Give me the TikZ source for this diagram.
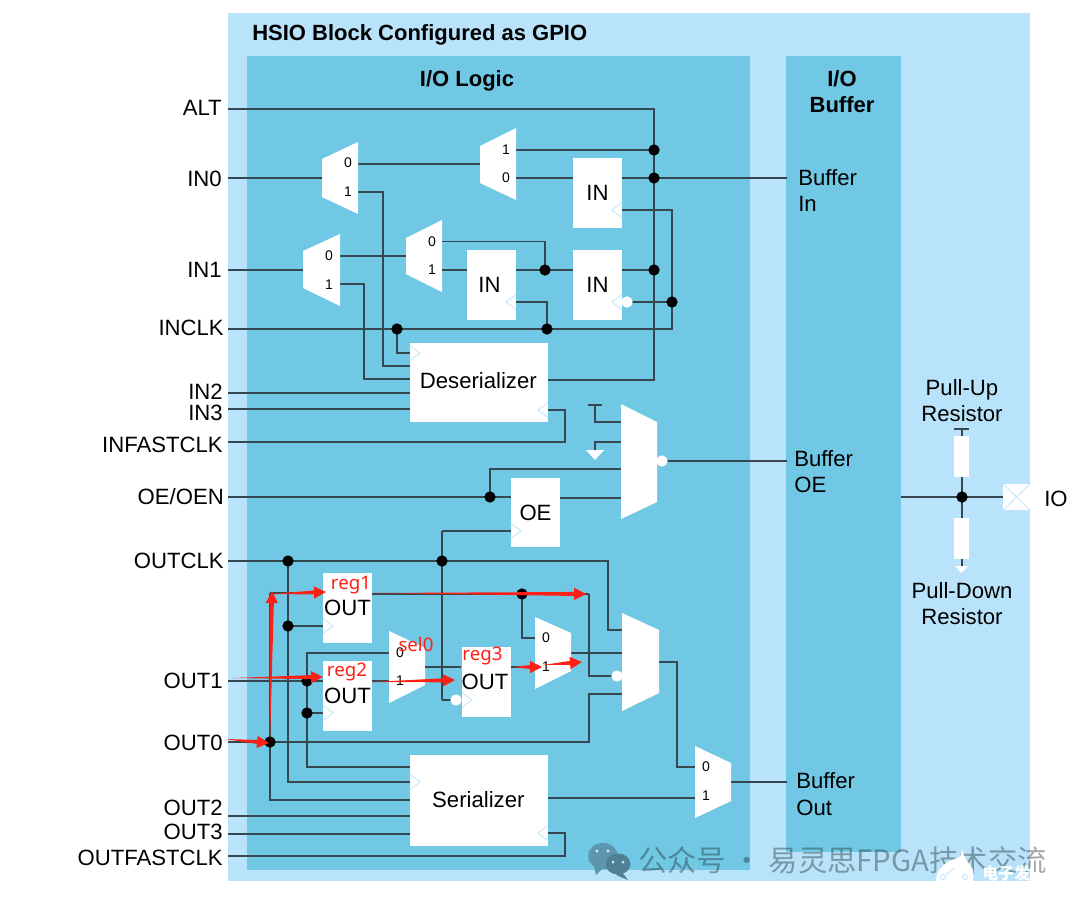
\documentclass[tikz,border=0pt]{standalone}
\usepackage{fontspec}
\setmainfont{Liberation Sans}
\newfontfamily\noto{Noto Sans}
\newfontfamily\cjk{Noto Sans CJK SC}
\usetikzlibrary{calc}
\definecolor{outerblue}{HTML}{B9E3FA}
\definecolor{innerblue}{HTML}{71C8E5}
\definecolor{wirec}{HTML}{37474F}
\definecolor{chev}{HTML}{C4E8FB}
\definecolor{redmark}{HTML}{FF2015}
\definecolor{wmark}{HTML}{5E97AD}
\tikzset{
  wire/.style={draw=wirec,line width=0.8pt},
  fbox/.style={fill=white,inner sep=0pt,font=\fontsize{16.6}{18}\selectfont},
  reg/.style={fbox,minimum width=36.75pt,minimum height=52.5pt},
  wide/.style={fbox,minimum width=103.5pt},
  sdot/.style={circle,fill=black,inner sep=0pt,minimum size=8.5pt},
  bub/.style={circle,fill=white,inner sep=0pt,minimum size=8.5pt},
  sig/.style={anchor=east,inner sep=0pt,font=\fontsize{16.6}{18}\selectfont},
  lab/.style={inner sep=0pt,font=\fontsize{16.6}{18}\selectfont},
  lft/.style={lab,anchor=west},
  head/.style={inner sep=0pt,font=\fontsize{16.5}{18}\selectfont\bfseries},
  pin/.style={inner sep=0pt,font=\fontsize{10.5}{12}\selectfont},
  redl/.style={inner sep=0pt,text=redmark,font=\noto\fontsize{14}{15}\selectfont},
  chv/.style={draw=chev,line width=0.7pt},
  muxf/.style={fill=white},
}
\newcommand{\muxshape}[6]{\path[muxf] (#1,#3) -- (#2,#5) -- (#2,#6) -- (#1,#4) -- cycle;}
\newcommand{\chevr}[2]{\draw[chv] (#1,#2-7.5) -- (#1+10,#2) -- (#1,#2+7.5);}
\newcommand{\chevl}[2]{\draw[chv] (#1,#2-7.5) -- (#1-10,#2) -- (#1,#2+7.5);}
\newcommand{\redarr}[2]{%
  \coordinate (ah) at ($(#2)!9pt!(#1)$);
  \fill[redmark] (#1) -- ($(ah)!1.5pt!90:(#2)$) -- ($(ah)!4.6pt!90:(#2)$) -- (#2)
     -- ($(ah)!4.6pt!-90:(#2)$) -- ($(ah)!1.5pt!-90:(#2)$) -- cycle;}
\begin{document}
\begin{tikzpicture}[x=0.75pt,y=-0.75pt]
\useasboundingbox (0,0) rectangle (1080,903);
\fill[white] (0,0) rectangle (1080,903);
% panels
\fill[outerblue] (228,13) rectangle (1030,881);
\fill[innerblue] (247,56) rectangle (750,870);
\fill[innerblue] (786,56) rectangle (901,852);

% terminals
\foreach \n/\y in {tALT/109,tINO/178,tINA/270,tINCLK/329,tINB/393,tINC/409,tINF/442,tOE/497,tOCLK/561,tOA/681,tOO/742,tOB/816,tOC/834,tOF/856}
  \coordinate (\n) at (228,\y);
\coordinate (bIn) at (787,178);
\coordinate (bOE) at (787,461);
\coordinate (bOut) at (787,782);

% junctions
\coordinate (jA) at (654,150);
\coordinate (jB) at (654,178);
\coordinate (jC) at (654,270);
\coordinate (jD) at (545,270);
\coordinate (jE) at (672,302);
\coordinate (jF) at (547,329);
\coordinate (jG) at (397,329);
\coordinate (jH) at (490,497);
\coordinate (jI) at (288,561);
\coordinate (jJ) at (442,561);
\coordinate (jK) at (288,626);
\coordinate (jL) at (307,681);
\coordinate (jM) at (307,713);
\coordinate (jN) at (270,742);
\coordinate (jO) at (522,594);
\coordinate (jR) at (962,497);

% bends
\coordinate (cALT) at (654,109);
\coordinate (cDes) at (654,380);
\coordinate (desQ) at (548,380);
\coordinate (cA) at (383,366);
\coordinate (desA) at (410,366);
\coordinate (cB) at (364,379);
\coordinate (desB) at (410,379);
\coordinate (desC) at (410,353);
\coordinate (cClk) at (672,329);
\coordinate (desF) at (548,410);
\coordinate (cF) at (565,442);
\coordinate (serF) at (548,833);
\coordinate (cS) at (565,856);
\coordinate (cJ) at (442,700);
\coordinate (bubC) at (456,700);
\coordinate (cOC) at (608,561);
\coordinate (cLa) at (288,782);
\coordinate (serC) at (410,782);
\coordinate (cSa) at (307,653);
\coordinate (cSb) at (307,767);
\coordinate (serA) at (410,767);
\coordinate (cUp) at (270,593);
\coordinate (cDn) at (270,800);
\coordinate (serB) at (410,800);
\coordinate (cQ1) at (589,594);
\coordinate (cQ2) at (589,676);
\coordinate (cO) at (589,742);
\coordinate (cMo) at (677,767);

% mux pins
\coordinate (maI) at (322,178);
\coordinate (maA) at (358,164);
\coordinate (maB) at (358,192);
\coordinate (mbA) at (480,164);
\coordinate (mbP) at (516,150);
\coordinate (mbQ) at (516,178);
\coordinate (mcI) at (303,270);
\coordinate (mcA) at (340,256);
\coordinate (mcB) at (340,284);
\coordinate (mdA) at (406,256);
\coordinate (mdP) at (442,241.5);
\coordinate (mdQ) at (442,270);
\coordinate (oeT) at (621,422);
\coordinate (oeG) at (621,442);
\coordinate (oeH) at (621,469);
\coordinate (oeJ) at (621,498);
\coordinate (oeO) at (662,461);
\coordinate (tieL) at (588,405);
\coordinate (tieR) at (602,405);
\coordinate (tieC) at (595,405);
\coordinate (gndC) at (595,450);
\coordinate (meA) at (389,653);
\coordinate (meB) at (389,681);
\coordinate (meO) at (425,667);
\coordinate (mfA) at (535,638);
\coordinate (mfB) at (535,667);
\coordinate (mfO) at (571,653);
\coordinate (mgA) at (622,630);
\coordinate (mgB) at (622,653);
\coordinate (mgD) at (622,694);
\coordinate (mgO) at (659,662);
\coordinate (mgBub) at (617,676);
\coordinate (mhA) at (695,767);
\coordinate (mhB) at (695,798);
\coordinate (mhO) at (731,782);
\coordinate (serQ) at (548,798);

% connectors
\draw[wire] (tALT) -- (cALT) -- (jA) -- (jB) -- (jC) -- (cDes) -- (desQ);
\draw[wire] (tINO) -- (maI);
\draw[wire] (maA) -- (mbA);
\draw[wire] (maB) -| (cA) -- (desA);
\draw[wire] (mbP) -- (jA);
\draw[wire] (tINA) -- (mcI);
\draw[wire] (mcA) -- (mdA);
\draw[wire] (mcB) -| (cB) -- (desB);
\draw[wire] (mdP) -| (jD);
\draw[wire] (tINCLK) -- (jG) -- (jF) -- (cClk) -- (jE);
\draw[wire] (jG) |- (desC);
\draw[wire] (tINB) -- (tINB -| desA);
\draw[wire] (tINC) -- (tINC -| desA);
\draw[wire] (desF) -| (cF) -- (tINF);
\draw[wire] (tieL) -- (tieR);
\draw[wire] (tieC) |- (oeT);
\draw[wire] (oeG) -| (gndC);
\draw[wire] (tOE) -- (jH);
\draw[wire] (jH) |- (oeH);
\draw[wire] (oeO) -- (bOE);
\draw[wire] (tOCLK) -- (jI) -- (jJ) -- (cOC) |- (mgA);
\draw[wire] (jI) -- (jK) -- (cLa) -- (serC);
\draw[wire] (meA) -- (cSa) -- (jL) -- (jM) -- (cSb) -- (serA);
\draw[wire] (tOA) -- (jL);
\draw[wire] (jN) -- (cUp);
\draw[wire] (jN) -- (cDn) -- (serB);
\draw[wire] (tOO) -- (jN) -- (cO) |- (mgD);
\draw[wire] (jO) |- (mfA);
\draw[wire] (cQ1) -- (cQ2) -- (mgBub);
\draw[wire] (mfO) -- (mgB);
\draw[wire] (mgO) -| (cMo) -- (mhA);
\draw[wire] (serQ) -- (mhB);
\draw[wire] (mhO) -- (bOut);
\draw[wire] (tOB) -- (tOB -| serA);
\draw[wire] (tOC) -- (tOC -| serA);
\draw[wire] (serF) -| (cS) -- (tOF);
\draw[wire] (cJ) -- (jJ);
\draw[wire] (jJ) -- ++(0,-30) coordinate (oeCk);
\draw[wire] (cJ) -- (bubC);

% muxes
\muxshape{322}{358}{159}{197}{142}{214}
\muxshape{480}{516}{146}{183}{128}{200}
\muxshape{303}{340}{251}{288}{234}{306}
\muxshape{406}{442}{238}{274}{220}{292}
\muxshape{621}{657}{404}{519}{422}{502}
\muxshape{389}{425}{631}{703}{648}{685}
\muxshape{535}{571}{617}{689}{633}{671}
\muxshape{622}{659}{613}{711}{630}{693}
\muxshape{695}{731}{746}{818}{763}{801}
\fill[white] (586,450) -- (604,450) -- (595,460) -- cycle;

% mux pin labels
\foreach \n/\x/\y/\t in {pa/348/163/0,pb/348/192/1,pc/506/150/1,pd/506/178/0,pe/329/256/0,pf/329/285/1,pg/432/242/0,ph/432/270/1,pi/400/653/0,pj/400/681/1,pk/546/638/0,pl/546/667/1,pm/706/767/0,pn/706/796/1}
  \node[pin] (\n) at (\x,\y) {\t};

% register blocks
\node[reg] (inA) at (597.5,193) {IN};
\node[reg] (inB) at (491.5,285) {IN\kern3pt};
\node[reg] (inC) at (597.5,285) {IN};
\node[reg,minimum height=51.75pt] (oeR) at (535.5,512.5) {OE};
\node[reg] (rA) at (347.5,608) {OUT};
\node[reg] (rB) at (347.5,696) {OUT};
\node[reg] (rC) at (486,682) {OUT\kern1.5pt};
\node[wide,minimum height=59.25pt] (des) at (479,382.5) {\raisebox{3pt}{Deserializer\kern1pt}};
\node[wide,minimum height=68.25pt] (ser) at (479,800.5) {\raisebox{1pt}{Serializer\kern1pt}};

% wires that end on the blocks
\draw[wire] (mbQ) -- (mbQ -| inA.west);
\draw[wire] (bIn) -- (jB) -- (bIn -| inA.east);
\draw[wire] (inA.east |- 0,210) -| (jE);
\draw[wire] (mdQ) -- (mdQ -| inB.west);
\draw[wire] (jD -| inB.east) -- (jD) -- (jD -| inC.west);
\draw[wire] (jC) -- (jC -| inC.east);
\draw[wire] (inB.east |- jE) -| (jF);
\draw[wire] (bubC |- jE) ++(171,0) coordinate (inCb) -- (jE);
\draw[wire] (jH) -- (jH -| oeR.west);
\draw[wire] (oeR.east |- oeJ) -- (oeJ);
\draw[wire] (oeR.west |- 0,531) -| (oeCk);
\draw[wire] (jK) -- (jK -| rA.west);
\draw[wire] (jL) -- (jL -| rB.west);
\draw[wire] (jM) -- (jM -| rB.west);
\draw[wire] (cUp) -- (cUp -| rA.west);
\draw[wire] (rB.east |- meB) -- (meB);
\draw[wire] (meO) -- (meO -| rC.west);
\draw[wire] (rC.east |- mfB) -- (mfB);
\draw[wire] (rA.east |- jO) -- (jO) -- (cQ1);

% clock chevrons
\chevl{622}{210}
\chevl{516}{302}
\chevl{622}{302}
\chevr{410}{353}
\chevl{548}{410}
\chevr{511}{531}
\chevr{323}{626}
\chevr{323}{713}
\chevr{462}{700}
\chevr{410}{782}
\chevl{548}{833}

% bubbles
\node[bub] (bA) at (627,302) {};
\node[bub] (bB) at (662,461) {};
\node[bub] (bC) at (456,700) {};
\node[bub] (bD) at (617,676) {};

% dots
\foreach \j/\k in {jA/kA,jB/kB,jC/kC,jD/kD,jE/kE,jF/kF,jG/kG,jH/kH,jI/kI,jJ/kJ,jK/kK,jL/kL,jM/kM,jN/kN,jO/kO}
  \node[sdot] (\k) at (\j) {};

% resistors and pad
\coordinate (rTop) at (962,429);
\coordinate (rBot) at (962,567);
\coordinate (padW) at (1003,497);
\coordinate (bufE) at (901,497);
\draw[wire] (rTop) -- (jR) -- (rBot);
\draw[wire] (bufE) -- (jR) -- (padW);
\draw[wire] (954,429) -- (969,429);
\node[fill=white,inner sep=0pt,minimum width=11.25pt,minimum height=30.75pt] (rU) at (961.5,456.5) {};
\node[fill=white,inner sep=0pt,minimum width=11.25pt,minimum height=30.75pt] (rD) at (961.5,538.5) {};
\fill[white] (955,566) -- (968,566) -- (961.5,573) -- cycle;
\node[sdot] (kR) at (jR) {};
\node[fill=white,inner sep=0pt,minimum width=20.25pt,minimum height=19.5pt] (pad) at (1016.5,497) {};
\draw[chv] (pad.north west) -- (pad.south east);
\draw[chv] (pad.south west) -- (pad.north east);

% texts
\node[head,anchor=west] (tTitle) at (252,35) {HSIO Block Configured as GPIO};
\node[head] (tLogic) at (467,81) {I/O Logic};
\node[head,align=center] (tBuf) at (842,92) {I/O\\[1.5pt]Buffer};
\node[sig] (lALT) at (222,108) {ALT};
\node[sig] (lI0) at (222,179) {IN0};
\node[sig] (lI1) at (222,270) {IN1};
\node[sig] (lIC) at (224,328) {INCLK};
\node[sig] (lI2) at (223,392) {IN2};
\node[sig] (lI3) at (223,413) {IN3};
\node[sig] (lIF) at (223,445) {INFASTCLK};
\node[sig] (lOE) at (224,497) {OE/OEN};
\node[sig] (lOC) at (224,561) {OUTCLK};
\node[sig] (lO1) at (223,681) {OUT1};
\node[sig] (lO0) at (223,743) {OUT0};
\node[sig] (lO2) at (223,808) {OUT2};
\node[sig] (lO3) at (223,832) {OUT3};
\node[sig] (lOF) at (223,858) {OUTFASTCLK};
\node[lft] (lBi1) at (798,178) {Buffer};
\node[lft] (lBi2) at (798,204) {In};
\node[lft] (lBe1) at (794,459) {Buffer};
\node[lft] (lBe2) at (794,485) {OE};
\node[lft] (lBo1) at (796,781) {Buffer};
\node[lft] (lBo2) at (796,808) {Out};
\node[lab] (lPu1) at (962,390) {Pull-Up};
\node[lab] (lPu2) at (962,414) {Resistor};
\node[lab] (lPd1) at (962,591) {Pull-Down};
\node[lab] (lPd2) at (962,617) {Resistor};
\node[lab] (lIO) at (1056,499) {IO};

% red annotations
\node[redl] (nA) at (351,585) {reg1};
\node[redl] (nB) at (347,672) {reg2};
\node[redl] (nC) at (482.5,656) {reg3};
\node[redl] (nD) at (416,644) {sel0};
\coordinate (aIn1) at (233,678);
\coordinate (aRb) at (323,677);
\coordinate (aIn0) at (225,739);
\coordinate (aDot) at (269,743);
\coordinate (aUp) at (272,591);
\coordinate (aUpS) at (270,742);
\coordinate (aRaS) at (272,594);
\coordinate (aRa) at (326,592);
\coordinate (aQaS) at (372,593);
\coordinate (aQa) at (586,594);
\coordinate (aQbS) at (372,682);
\coordinate (aQb) at (455,680);
\coordinate (aQcS) at (513,667);
\coordinate (aQc) at (542,667);
\coordinate (aMS) at (543,665);
\coordinate (aM) at (582,662);
\redarr{aIn1}{aRb}
\redarr{aIn0}{aDot}
\redarr{aUpS}{aUp}
\redarr{aRaS}{aRa}
\redarr{aQaS}{aQa}
\redarr{aQbS}{aQb}
\redarr{aQcS}{aQc}
\redarr{aMS}{aM}

% watermark
\fill[wmark] (603,856) ellipse (15 and 13);
\fill[wmark] (594,866) -- (596,875) -- (604,867) -- cycle;
\fill[wmark!85!black] (618,864) ellipse (12.5 and 10.5);
\fill[wmark!85!black] (622,872) -- (628,880) -- (616,875) -- cycle;
\fill[innerblue!30] (613,862) circle (1.5) (623,862) circle (1.5);
\fill[innerblue!30] (597,851) circle (1.6) (608,851) circle (1.6);
\begin{scope}[opacity=0.38]
  \node[anchor=west,inner sep=0pt,text=black!85!innerblue,font=\cjk\fontsize{22}{24}\selectfont] (wm) at (638,860) {公众号 · 易灵思FPGA技术交流};
\end{scope}
% site mark
\fill[white] (936,881) .. controls (936,868) and (948,860) .. (958,858) .. controls (961,856) and (962,852) .. (962,848) .. controls (963,858) and (970,864) .. (973,870) -- (973,881) -- cycle;
\draw[outerblue,line width=0.6pt] (943,877) circle (2.5) (965,877) circle (2.5) (946,875) -- (954,868);
\node[anchor=west,inner sep=0pt,text=white,font=\cjk\bfseries\fontsize{12}{14}\selectfont] (wm2) at (982,873) {电子发};
\end{tikzpicture}
\end{document}
